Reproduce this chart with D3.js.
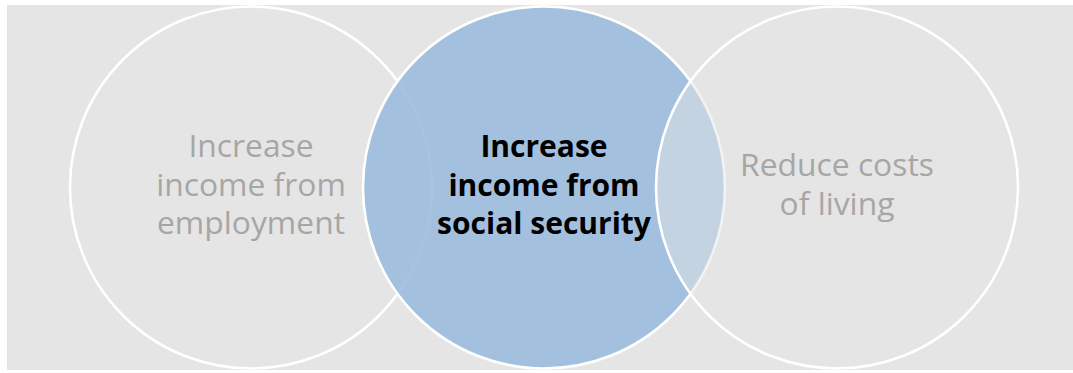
<!DOCTYPE html>
<html>
<head>
<meta charset="utf-8">
<script src="https://cdn.jsdelivr.net/npm/d3@7"></script>
<style>
  html, body { margin: 0; padding: 0; background: #ffffff; }
  svg { display: block; }
</style>
</head>
<body>
<svg id="chart" width="1073" height="373"></svg>
<script>
// ---- data ----
const categories = ["employment", "social security", "costs of living"];
const labelLines = [
  ["Increase", "income from", "employment"],
  ["Increase", "income from", "social security"],
  ["Reduce costs", "of living"]
];
const highlighted = [false, true, false];

// ---- layout ----
const panel = { x: 7, y: 5, w: 1066, h: 365 };
const cy = 187.5, r = 181;
const svg = d3.select("#chart");

svg.append("rect")
  .attr("x", panel.x).attr("y", panel.y)
  .attr("width", panel.w).attr("height", panel.h)
  .attr("fill", "#e5e5e5");

const x = d3.scalePoint().domain(categories).range([251, 837]);

const data = categories.map((c, i) => ({ c, i, lines: labelLines[i], hi: highlighted[i] }));

// circles: drawn left, middle, right
svg.selectAll("circle.venn")
  .data(data)
  .join("circle")
  .attr("class", "venn")
  .attr("cx", d => x(d.c))
  .attr("cy", cy)
  .attr("r", r)
  .attr("fill", d => d.hi ? "#9abbdd" : "#e5e5e5")
  .attr("fill-opacity", d => d.hi ? 0.88 : (d.i === 0 ? 1 : 0.5))
  .attr("stroke", "#ffffff")
  .attr("stroke-width", 2.6);

// labels: one text element per circle, one tspan per line
const lineGap = 38.5;
svg.selectAll("text.lab")
  .data(data)
  .join("text")
  .attr("class", "lab")
  .attr("text-anchor", "middle")
  .attr("font-family", "'Open Sans', 'Noto Sans', sans-serif")
  .attr("font-size", d => d.hi ? 30 : 31.8)
  .attr("font-weight", d => d.hi ? 700 : 400)
  .attr("fill", d => d.hi ? "#000000" : "#a8a6a5")
  .each(function(d) {
    const n = d.lines.length;
    d3.select(this).selectAll("tspan")
      .data(d.lines)
      .join("tspan")
      .attr("x", x(d.c))
      .attr("y", (t, j) => cy + 8 + (j - (n - 1) / 2) * lineGap)
      .text(t => t);
  });
</script>
</body>
</html>
